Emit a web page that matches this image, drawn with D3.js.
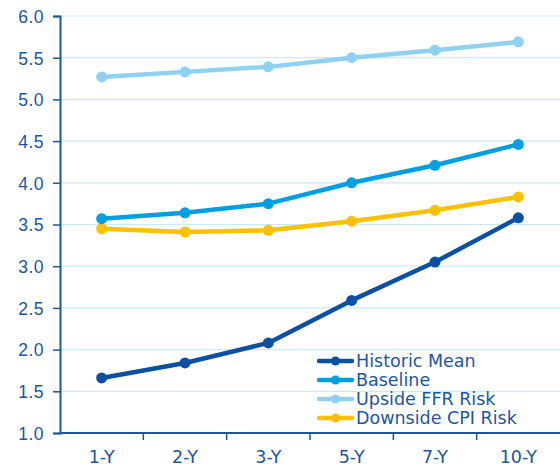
<!DOCTYPE html>
<html>
<head>
<meta charset="utf-8">
<script src="https://cdn.jsdelivr.net/npm/d3@7"></script>
<style>
  html, body { margin: 0; padding: 0; background: #fff; }
  svg { display: block; font-family: "DejaVu Sans", "Noto Sans", sans-serif; }
</style>
</head>
<body>
<svg id="chart" width="560" height="468"></svg>
<script>
// Tenors along the x axis
const tenors = ["1-Y", "2-Y", "3-Y", "5-Y", "7-Y", "10-Y"];

// Yield path for each scenario (%)
const historicMean = [1.66, 1.84, 2.08, 2.59, 3.05, 3.58];
const baseline     = [3.57, 3.64, 3.75, 4.00, 4.21, 4.46];
const upsideFFR    = [5.27, 5.33, 5.39, 5.50, 5.59, 5.69];
const downsideCPI  = [3.45, 3.41, 3.43, 3.54, 3.67, 3.83];

const yTicks = [1.0, 1.5, 2.0, 2.5, 3.0, 3.5, 4.0, 4.5, 5.0, 5.5, 6.0];

const series = [
  { name: "Historic Mean",      values: historicMean, color: "#0b50a2" },
  { name: "Baseline",           values: baseline,     color: "#009fe3" },
  { name: "Upside FFR Risk",    values: upsideFFR,    color: "#8ed1f3" },
  { name: "Downside CPI Risk",  values: downsideCPI,  color: "#ffc000" }
];

const textColor = "#1a56a2";
const axisColor = "#1a56a2";
const gridColor = "#c9eaf9";
const fontSize = 17.5;

const svg = d3.select("#chart");
const margin = { top: 16, right: 0, bottom: 35, left: 60 };
const width = 560 - margin.left - margin.right;
const height = 468 - margin.top - margin.bottom;

const g = svg.append("g").attr("transform", `translate(${margin.left},${margin.top})`);

const x = d3.scaleBand().domain(tenors).range([0, width]);
const y = d3.scaleLinear().domain([1, 6]).range([height, 0]);

// Horizontal gridlines
g.append("g")
  .selectAll("line")
  .data(yTicks.filter(t => t > 1))
  .join("line")
  .attr("x1", 0).attr("x2", width)
  .attr("y1", d => y(d)).attr("y2", d => y(d))
  .attr("stroke", gridColor).attr("stroke-width", 1.2);

// Y axis
const yAxis = g.append("g")
  .call(d3.axisLeft(y).tickValues(yTicks).tickFormat(d3.format(".1f")).tickSize(7).tickPadding(9));
yAxis.select(".domain").attr("stroke", axisColor).attr("stroke-width", 2);
yAxis.selectAll(".tick line").attr("stroke", axisColor).attr("stroke-width", 1.5);
yAxis.selectAll(".tick text")
  .attr("fill", textColor).attr("font-size", fontSize)
  .attr("letter-spacing", 0.5).attr("dy", "0.36em");

// X axis with ticks between categories
const xAxis = g.append("g").attr("transform", `translate(0,${height})`);
xAxis.append("line")
  .attr("x1", 0).attr("x2", width)
  .attr("stroke", axisColor).attr("stroke-width", 2);
xAxis.selectAll("line.sep")
  .data(tenors.slice(1))
  .join("line")
  .attr("class", "sep")
  .attr("x1", d => x(d)).attr("x2", d => x(d))
  .attr("y1", 0).attr("y2", 7)
  .attr("stroke", axisColor).attr("stroke-width", 1.5);
xAxis.selectAll("text")
  .data(tenors)
  .join("text")
  .attr("x", d => x(d) + x.bandwidth() / 2)
  .attr("y", 30)
  .attr("text-anchor", "middle")
  .attr("fill", textColor)
  .attr("font-size", fontSize)
  .text(d => d);

// Lines and markers
const line = d3.line()
  .x((d, i) => x(tenors[i]) + x.bandwidth() / 2)
  .y(d => y(d));

// Draw in back-to-front order so the dark series sits on top
const drawOrder = [series[2], series[3], series[1], series[0]];
drawOrder.forEach(s => {
  const sg = g.append("g");
  sg.append("path")
    .datum(s.values)
    .attr("d", line)
    .attr("fill", "none")
    .attr("stroke", s.color)
    .attr("stroke-width", 4.5)
    .attr("stroke-linejoin", "round");
  sg.selectAll("circle")
    .data(s.values)
    .join("circle")
    .attr("cx", (d, i) => x(tenors[i]) + x.bandwidth() / 2)
    .attr("cy", d => y(d))
    .attr("r", 5.5)
    .attr("fill", s.color);
});

// Legend
const legend = svg.append("g").attr("transform", "translate(319,361)");
series.forEach((s, i) => {
  const row = legend.append("g").attr("transform", `translate(0,${i * 19})`);
  row.append("line")
    .attr("x1", 0).attr("x2", 33)
    .attr("stroke", s.color).attr("stroke-width", 4.5).attr("stroke-linecap", "round");
  row.append("circle").attr("cx", 16.5).attr("cy", 0).attr("r", 4.5).attr("fill", s.color);
  row.append("text")
    .attr("x", 37).attr("y", 0).attr("dy", "0.36em")
    .attr("fill", textColor).attr("font-size", fontSize)
    .text(s.name);
});
</script>
</body>
</html>
